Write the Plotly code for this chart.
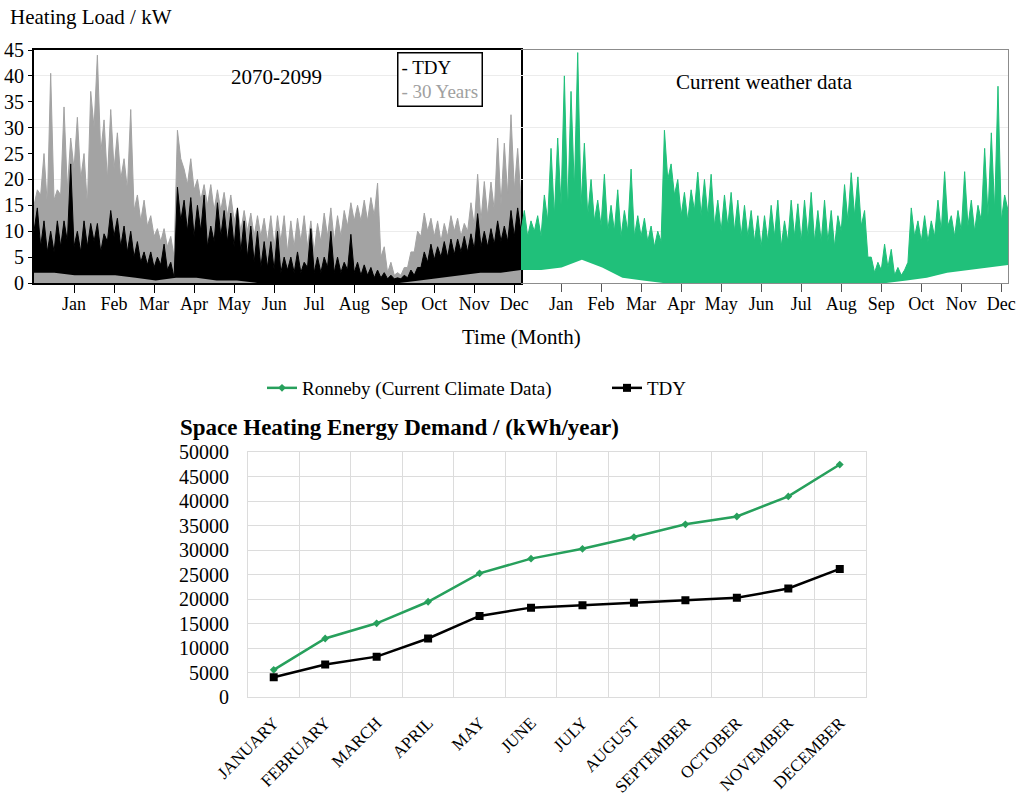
import numpy as np
import plotly.graph_objects as go

# ---------------- Top panels: hourly heating load, read as 5-day values ----------------
BIN_DAYS = 5
# peak load in each 5-day bin (kW)
gray_peak = [18, 25, 40.5, 18, 34, 28, 32, 25, 37, 44,
             31.5, 33.5, 29, 24, 33.5, 17, 16, 13, 10.5, 10.5,
             9, 29.5, 22, 24, 20, 19, 19, 18, 17.5, 17,
             14.5, 14, 13.5, 13, 12.5, 13, 13, 13, 12, 12.5,
             13, 12, 11.5, 13.5, 14.5, 13, 14, 15.5, 15, 16,
             16.5, 19.3, 7, 4, 2, 3, 6, 10, 13.5, 12.5,
             12, 11.5, 13, 12.5, 11.5, 15.5, 21, 19.6, 19.5, 28,
             27, 32.5, 26]
black_peak = [14.5, 12, 10, 12, 12, 23, 10, 12, 11.5, 11.5,
              9.5, 14, 12.5, 11, 10, 8, 6, 6, 5, 7.5,
              4, 18.5, 16, 16.5, 15, 17, 11, 15.5, 14, 13.5,
              14.5, 12, 11, 10, 8, 8, 10, 5, 5, 6,
              4, 10.5, 5, 5, 10, 5, 4, 9.4, 4, 3.5,
              3, 2.5, 2, 1.5, 1, 1.5, 2.5, 3, 6, 7.5,
              7, 8, 8.5, 8.5, 9, 9.5, 13.4, 10, 10.5, 12,
              11, 14, 14.5]
green_peak = [14, 12, 13, 17, 26, 28, 40, 37, 44.5, 27,
              20, 16, 21, 15, 18, 14, 22, 13, 12.5, 11,
              10, 29.5, 23, 20, 17.5, 18, 21.4, 20, 21, 16,
              17, 17.5, 16, 15, 14, 13, 13, 15, 16, 12,
              16, 15.3, 16, 17.5, 14, 16, 14, 13, 19, 21.3,
              20.5, 14, 5, 4, 7.5, 6.5, 3, 2.5, 14.5, 12,
              13, 12, 16, 21.5, 13, 14, 21.5, 16, 15, 26,
              29, 38, 17]

# level between spikes at each 5-day boundary (kW)
gray_trough = [15, 17, 15, 16, 17, 18, 22, 20, 15, 30,
               25, 20, 22, 20, 18, 14, 12, 11, 9, 8,
               7, 5, 24, 19, 18, 16, 15, 14, 14, 13,
               12, 10, 10, 9, 9, 8, 7, 8, 6, 7,
               8, 7, 6, 8, 9, 8, 9, 11, 12, 12,
               12, 13, 5, 2, 1.5, 1.5, 3, 6, 9, 10,
               9, 8, 9, 10, 9, 10, 11, 12, 13, 14,
               15, 17, 18, 16]
black_trough = [10, 7, 6, 6, 7, 8, 7, 6, 7, 8,
                6, 8, 9, 7, 6, 5, 4, 3.5, 3, 3.5,
                2.5, 1, 12, 10, 9, 10, 7, 8, 9, 8,
                7, 6, 5, 4, 3, 3, 2.5, 2, 2.5, 2,
                2, 3, 2, 2, 3, 2, 2, 2.5, 2, 1.5,
                1.5, 1, 1, 0.8, 0.8, 0.8, 1, 1.5, 3, 4,
                4.5, 5, 5, 5.5, 6, 6, 6.5, 7, 7, 7.5,
                8, 8, 9, 10]
green_trough = [10, 9, 10, 9, 12, 13, 15, 14, 18, 15,
                13, 12, 11, 10, 10, 9, 10, 9, 9, 8,
                7, 8, 20, 17, 13, 12, 14, 13, 13, 11,
                10, 11, 10, 9, 9, 8, 7, 8, 9, 7,
                8, 9, 8, 9, 8, 8, 8, 7, 10, 12,
                13, 11, 5, 2, 2.5, 3, 1.5, 1.5, 4, 9,
                8, 8, 9, 10, 11, 9, 10, 11, 10, 12,
                13, 14, 12, 14]

# lower envelope of each series at half-month steps (kW)
gray_low = [0] * 25
black_low = [2, 2, 1.5, 1.5, 1.5, 1, 0.5, 1, 1, 0.5, 0.5, 0, 0, 0, 0, 0, 0, 0, 0, 0.5, 1, 1.5, 2, 2, 2.5]
green_low = [2.5, 2.5, 3, 4.5, 3, 1, 0.5, 0, 0, 0, 0, 0, 0, 0, 0, 0, 0, 0, 0, 0.5, 1, 2, 2.5, 3, 3.5]

month_short = ['Jan', 'Feb', 'Mar', 'Apr', 'May', 'Jun', 'Jul', 'Aug', 'Sep', 'Oct', 'Nov', 'Dec']
top_y_ticks = [0, 5, 10, 15, 20, 25, 30, 35, 40, 45]

# ---------------- Bottom panel: cumulative space heating demand ----------------
months_full = ['JANUARY', 'FEBRUARY', 'MARCH', 'APRIL', 'MAY', 'JUNE', 'JULY', 'AUGUST',
               'SEPTEMBER', 'OCTOBER', 'NOVEMBER', 'DECEMBER']
ronneby = [5600, 12000, 15100, 19500, 25300, 28300, 30300, 32700, 35300, 36900, 41000, 47500]
tdy = [4100, 6700, 8300, 12000, 16600, 18300, 18800, 19300, 19800, 20300, 22200, 26200]

FONT = 'Liberation Serif'
GRAY = '#a3a3a3'
BLACK = '#000000'
GREEN_TOP = '#20c07a'
GREEN_LINE = '#27a05c'

W, H = 1024, 796
def px(x):
    return x / W
def py(y):
    return 1 - y / H

fig = go.Figure()

bin_centers = np.arange(len(gray_peak)) * BIN_DAYS + BIN_DAYS / 2
bin_edges = np.arange(len(gray_trough)) * BIN_DAYS
low_x = np.linspace(0, 365, len(gray_low))


def zigzag(troughs, peaks):
    xs, ys = [], []
    for i in range(len(peaks)):
        xs += [bin_edges[i], bin_centers[i]]
        ys += [troughs[i], peaks[i]]
    xs.append(bin_edges[len(peaks)])
    ys.append(troughs[len(peaks)])
    return xs, ys


def add_series(troughs, peaks, low, color, xa, ya):
    fig.add_trace(go.Scatter(x=low_x, y=low, mode='lines', line=dict(width=0, color=color),
                             hoverinfo='skip', showlegend=False, xaxis=xa, yaxis=ya))
    zx, zy = zigzag(troughs, peaks)
    fig.add_trace(go.Scatter(x=zx, y=zy, mode='lines', line=dict(width=1, color=color),
                             fill='tonexty', fillcolor=color,
                             hoverinfo='skip', showlegend=False, xaxis=xa, yaxis=ya))


add_series(gray_trough, gray_peak, gray_low, GRAY, 'x', 'y')
add_series(black_trough, black_peak, black_low, BLACK, 'x', 'y')
add_series(green_trough, green_peak, green_low, GREEN_TOP, 'x2', 'y2')

# dummy trace so the labelled overlay axis is drawn
fig.add_trace(go.Scatter(x=[None], y=[None], xaxis='x', yaxis='y4', showlegend=False, hoverinfo='skip'))

# bottom chart
fig.add_trace(go.Scatter(x=months_full, y=ronneby, mode='lines+markers', name='Ronneby (Current Climate Data)',
                         line=dict(color=GREEN_LINE, width=2.5),
                         marker=dict(symbol='diamond', size=6, color=GREEN_LINE),
                         xaxis='x3', yaxis='y3'))
fig.add_trace(go.Scatter(x=months_full, y=tdy, mode='lines+markers', name='TDY',
                         line=dict(color=BLACK, width=2.5),
                         marker=dict(symbol='square', size=8, color=BLACK),
                         xaxis='x3', yaxis='y3'))

top_dom = [py(283), py(50)]
month_ticks = [30 * (i + 1) for i in range(12)]
tick_font = dict(family=FONT, size=18, color='black')

fig.update_layout(
    width=W, height=H,
    margin=dict(l=0, r=0, t=0, b=0),
    paper_bgcolor='white', plot_bgcolor='white',
    font=dict(family=FONT, color='black'),
    showlegend=True,
    legend=dict(orientation='h', x=px(262), y=py(388), xanchor='left', yanchor='middle',
                traceorder='normal',
                font=dict(family=FONT, size=19, color='black'), bgcolor='rgba(0,0,0,0)',
                entrywidth=300, itemwidth=30),
    xaxis=dict(domain=[px(34), px(521)], anchor='y', range=[0, 365],
               tickvals=month_ticks, ticktext=month_short, ticks='outside', ticklen=8,
               tickcolor='black', tickfont=tick_font, showgrid=False, zeroline=False,
               ticklabelstandoff=-4,
               showline=True, linecolor='black', linewidth=1.5, mirror=True, automargin=False),
    yaxis=dict(domain=top_dom, anchor='x', range=[0, 45], dtick=10, showgrid=True,
               gridcolor='#ececec', showticklabels=False, ticks='', zeroline=False,
               showline=True, linecolor='black', linewidth=1.5, mirror=True, automargin=False),
    yaxis4=dict(overlaying='y', anchor='x', range=[0, 45], tickvals=top_y_ticks,
                ticks='outside', ticklen=5, tickcolor='black', showgrid=False, zeroline=False,
                tickfont=dict(family=FONT, size=20, color='black'), showline=False, automargin=False),
    xaxis2=dict(domain=[px(521), px(1008)], anchor='y2', range=[0, 365],
                tickvals=month_ticks, ticktext=month_short, ticks='outside', ticklen=8,
                tickcolor='#555555', tickfont=tick_font, showgrid=False, zeroline=False,
                ticklabelstandoff=-4,
                showline=True, linecolor='#8c8c8c', linewidth=1.2, mirror=True, automargin=False),
    yaxis2=dict(domain=top_dom, anchor='x2', range=[0, 45], dtick=10, showgrid=True,
                gridcolor='#ececec', showticklabels=False, ticks='', zeroline=False, side='right',
                showline=True, linecolor='#8c8c8c', linewidth=1.2, automargin=False),
    xaxis3=dict(domain=[px(248), px(865.5)], anchor='y3', type='category', range=[-0.5, 11.5],
                tickson='boundaries', showgrid=True, gridcolor='#dcdcdc', ticks='',
                tickangle=-45, tickfont=dict(family=FONT, size=17, color='black'),
                showline=True, linecolor='#dcdcdc', mirror=True, zeroline=False,
                ticklabelstandoff=8, automargin=False),
    yaxis3=dict(domain=[py(697.3), py(452.3)], anchor='x3', range=[0, 50000], dtick=5000,
                tickformat='d',
                showgrid=True, gridcolor='#dcdcdc', ticks='', zeroline=False,
                tickfont=dict(family=FONT, size=20, color='black'),
                showline=True, linecolor='#dcdcdc', mirror=True, ticklabelstandoff=14,
                automargin=False),
)

ann_font = dict(family=FONT, size=21, color='black')
fig.add_annotation(text='Heating Load / kW', x=px(8), y=py(17), xref='paper', yref='paper',
                   xanchor='left', yanchor='middle', showarrow=False, font=ann_font)
fig.add_annotation(text='Time (Month)', x=px(521), y=py(337), xref='paper', yref='paper',
                   xanchor='center', yanchor='middle', showarrow=False, font=ann_font)
fig.add_annotation(text='2070-2099', x=px(276), y=py(77), xref='paper', yref='paper',
                   xanchor='center', yanchor='middle', showarrow=False, font=ann_font)
fig.add_annotation(text='Current weather data', x=px(764), y=py(82), xref='paper', yref='paper',
                   xanchor='center', yanchor='middle', showarrow=False, font=ann_font)
fig.add_annotation(text="- TDY<br><span style='color:#a0a0a0'>- 30 Years</span>",
                   x=px(397), y=py(52), xref='paper', yref='paper', xanchor='left', yanchor='top',
                   showarrow=False, align='left', bgcolor='white', bordercolor='black',
                   borderwidth=1.5, borderpad=3, font=dict(family=FONT, size=19, color='black'))
fig.add_annotation(text='<b>Space Heating Energy Demand / (kWh/year)</b>', x=px(178), y=py(427),
                   xref='paper', yref='paper', xanchor='left', yanchor='middle', showarrow=False,
                   font=dict(family=FONT, size=23, color='black'))

fig.write_html('out.html')
